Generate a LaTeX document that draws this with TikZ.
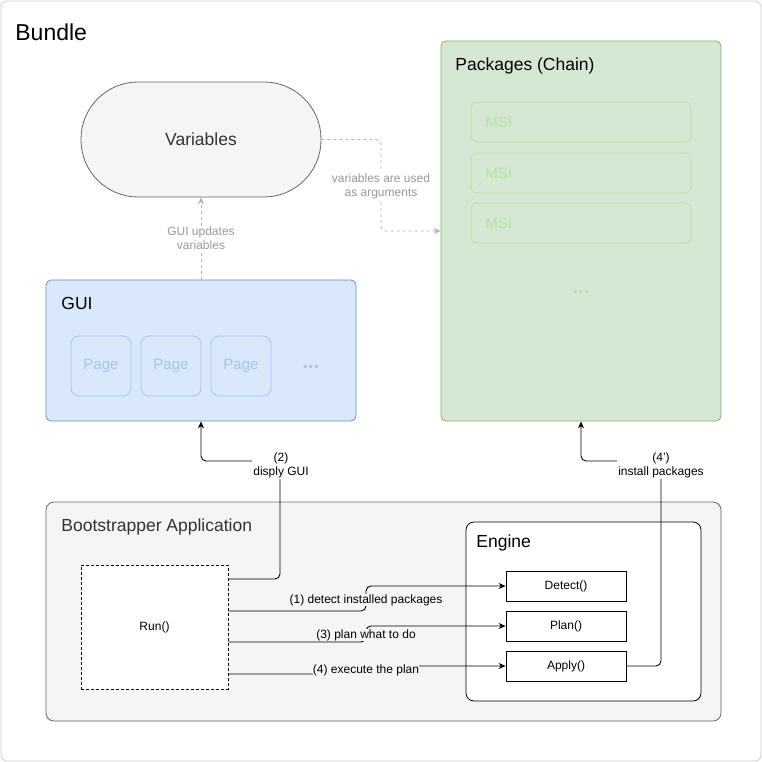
\documentclass[tikz,border=0pt]{standalone}
\usepackage{fontspec}
\setmainfont{Liberation Sans}
\usetikzlibrary{arrows.meta}

\definecolor{bundleline}{HTML}{CCCCCC}
\definecolor{greyfill}{HTML}{F5F5F5}
\definecolor{greyline}{HTML}{666666}
\definecolor{darktext}{HTML}{333333}
\definecolor{pkgfill}{HTML}{D5E8D4}
\definecolor{pkgline}{HTML}{82B366}
\definecolor{msiline}{HTML}{B9E0A5}
\definecolor{guifill}{HTML}{DAE8FC}
\definecolor{guiline}{HTML}{6C8EBF}
\definecolor{pageline}{HTML}{A9C4EB}
\definecolor{dashline}{HTML}{B3B3B3}
\definecolor{dashtext}{HTML}{999999}

\begin{document}
\begin{tikzpicture}[x=1pt,y=-1pt,line width=0.8pt,
  shapebox/.style={rectangle,inner sep=0pt,draw},
  title/.style={anchor=west,inner sep=0pt,font=\fontsize{17.5}{20}\selectfont},
  small/.style={font=\fontsize{12}{14}\selectfont,align=center,inner sep=1pt},
  faint/.style={font=\fontsize{15}{18}\selectfont,inner sep=0pt},
  dots/.style={font=\fontsize{20}{22}\selectfont\bfseries,inner sep=0pt},
  flow/.style={draw=black,line width=0.9pt,rounded corners=5pt,-{Stealth[length=7pt,width=6pt]}},
  hint/.style={draw=dashline,dash pattern=on 3pt off 3pt,rounded corners=5pt,
               -{Stealth[length=7pt,width=6pt]}},
]
\useasboundingbox (0,0) rectangle (762,762);

% outer bundle frame
\node[shapebox,draw=bundleline,fill=white,rounded corners=6pt,
      minimum width=760pt,minimum height=760pt] (bundle) at (381,381) {};
\node[anchor=west,inner sep=0pt,font=\fontsize{23}{26}\selectfont] (bundletitle) at (15,32) {Bundle};

% variables
\node[shapebox,draw=greyline,fill=greyfill,rounded corners=57pt,
      minimum width=240pt,minimum height=115pt,
      font=\fontsize{17.5}{20}\selectfont,text=darktext] (vars) at (201,139.5) {Variables};

% packages chain
\node[shapebox,draw=pkgline,fill=pkgfill,rounded corners=5pt,
      minimum width=280pt,minimum height=380pt] (pkg) at (581,231) {};
\node[title] (pkgtitle) at (455,66) {Packages (Chain)};
\foreach \i/\y in {1/122,2/173,3/223}{
  \node[shapebox,draw=msiline,fill=pkgfill,rounded corners=6pt,
        minimum width=220pt,minimum height=40pt] (msi\i) at (581,\y) {};
  \node[faint,text=msiline,anchor=west] (msilabel\i) at (485,\y) {MSI};
}
\node[dots,text=msiline] (pkgdots) at (581,292) {...};

% gui
\node[shapebox,draw=guiline,fill=guifill,rounded corners=5pt,
      minimum width=310pt,minimum height=141pt] (gui) at (201,350.5) {};
\node[title] (guititle) at (61,303) {GUI};
\foreach \i/\x in {1/101,2/171,3/241}{
  \node[shapebox,draw=pageline,fill=guifill,rounded corners=8pt,
        minimum width=60pt,minimum height=60pt,
        faint,text=pageline] (page\i) at (\x,366) {Page};
}
\node[dots,text=pageline] (guidots) at (311,367) {...};

% bootstrapper application
\node[shapebox,draw=greyline,fill=greyfill,rounded corners=8pt,
      minimum width=675pt,minimum height=219pt] (boot) at (383.5,611.5) {};
\node[title,text=darktext] (boottitle) at (61,527) {Bootstrapper Application};

% engine
\node[shapebox,draw=black,fill=white,rounded corners=8pt,
      minimum width=235pt,minimum height=179pt] (engine) at (583.5,611.5) {};
\node[title] (enginetitle) at (476,543) {Engine};
\node[shapebox,draw=black,fill=white,minimum width=120pt,minimum height=30pt,small] (detect) at (566,586) {Detect()};
\node[shapebox,draw=black,fill=white,minimum width=120pt,minimum height=30pt,small] (plan) at (566,626) {Plan()};
\node[shapebox,draw=black,fill=white,minimum width=120pt,minimum height=30pt,small] (apply) at (566,666) {Apply()};

% run()
\node[shapebox,draw=black,fill=white,dash pattern=on 3pt off 2pt,
      minimum width=147pt,minimum height=124pt,small] (run) at (154.5,627) {Run()};

% bend points of the connectors
\coordinate (kv) at (381,186);
\coordinate (k2) at (280,461);
\coordinate (k4) at (661,461);
\coordinate (j1) at (366,599);
\coordinate (j3) at (366,634);
\coordinate (j4) at (366,670);

% dashed data flows
\draw[hint] (gui.north) -- (vars.south);
\draw[hint] (vars.east) -| (kv) |- (pkg.west);
\node[small,fill=white,text=dashtext] (lblgui) at (201,238) {GUI updates\\variables};
\node[small,fill=white,text=dashtext] (lblargs) at (381,186) {variables are used\\as arguments};

% calls from run()
\draw[flow] ([yshift=48pt]run.east) -| (k2) -| (gui.south);
\draw[flow] (apply.east) -| (k4) -| (pkg.south);
\draw[flow] ([yshift=16pt]run.east) -| (j1) |- (detect.west);
\draw[flow] ([yshift=-15pt]run.east) -| (j3) |- (plan.west);
\draw[flow] ([yshift=-47pt]run.east) -| (j4) |- (apply.west);

\node[small,fill=white] (lbl2) at (281,465) {(2)\\disply GUI};
\node[small,fill=white] (lbl4p) at (661,465) {(4')\\install packages};
\node[small,fill=greyfill,inner sep=0pt] (lbl1) at (366,600) {(1) detect installed packages};
\node[small,fill=greyfill,inner sep=0pt] (lbl3) at (366,635) {(3) plan what to do};
\node[small,fill=greyfill,inner sep=0pt] (lbl4) at (366,670) {(4) execute the plan};
\end{tikzpicture}
\end{document}
